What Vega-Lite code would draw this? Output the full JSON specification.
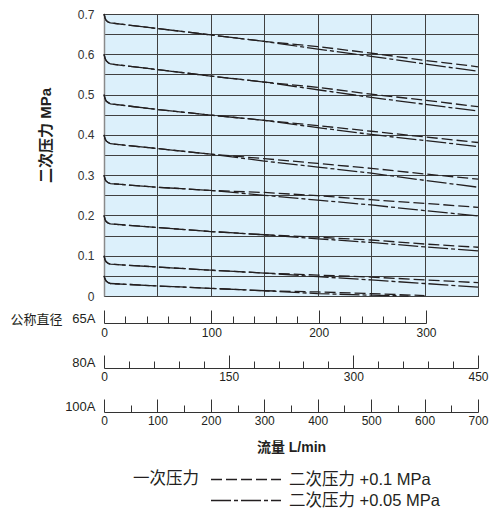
{
"$schema": "https://vega.github.io/schema/vega-lite/v6.json",
"padding": {"left": 10, "top": 8, "right": 0, "bottom": 0},
"background": "white",
"width": 374, "height": 282,
"view": {"fill": "#dcf0fb", "stroke": "#333333", "strokeWidth": 1},
"config": {
  "font": "Liberation Sans, Noto Sans CJK SC",
  "axis": {"labelFont": "Liberation Sans, Noto Sans CJK SC", "titleFont": "Liberation Sans, Noto Sans CJK SC", "labelColor": "#231f20", "titleColor": "#231f20", "labelFontSize": 12},
  "legend": {"labelFont": "Liberation Sans, Noto Sans CJK SC", "titleFont": "Liberation Sans, Noto Sans CJK SC"}
},
"layer": [
  {
    "data": {"values": [
      {"p":0.7,"t":"+0.1","x":0,"y":0.700},{"p":0.7,"t":"+0.1","x":2,"y":0.690},{"p":0.7,"t":"+0.1","x":4,"y":0.684},{"p":0.7,"t":"+0.1","x":8,"y":0.680},{"p":0.7,"t":"+0.1","x":12,"y":0.678},{"p":0.7,"t":"+0.1","x":100,"y":0.664},{"p":0.7,"t":"+0.1","x":200,"y":0.648},{"p":0.7,"t":"+0.1","x":300,"y":0.632},{"p":0.7,"t":"+0.1","x":400,"y":0.619},{"p":0.7,"t":"+0.1","x":500,"y":0.603},{"p":0.7,"t":"+0.1","x":600,"y":0.585},{"p":0.7,"t":"+0.1","x":700,"y":0.569},
      {"p":0.7,"t":"+0.05","x":0,"y":0.700},{"p":0.7,"t":"+0.05","x":2,"y":0.690},{"p":0.7,"t":"+0.05","x":4,"y":0.684},{"p":0.7,"t":"+0.05","x":8,"y":0.680},{"p":0.7,"t":"+0.05","x":12,"y":0.678},{"p":0.7,"t":"+0.05","x":100,"y":0.664},{"p":0.7,"t":"+0.05","x":200,"y":0.648},{"p":0.7,"t":"+0.05","x":300,"y":0.632},{"p":0.7,"t":"+0.05","x":400,"y":0.613},{"p":0.7,"t":"+0.05","x":500,"y":0.595},{"p":0.7,"t":"+0.05","x":600,"y":0.576},{"p":0.7,"t":"+0.05","x":700,"y":0.558},
      {"p":0.6,"t":"+0.1","x":0,"y":0.600},{"p":0.6,"t":"+0.1","x":2,"y":0.590},{"p":0.6,"t":"+0.1","x":4,"y":0.584},{"p":0.6,"t":"+0.1","x":8,"y":0.579},{"p":0.6,"t":"+0.1","x":12,"y":0.576},{"p":0.6,"t":"+0.1","x":100,"y":0.562},{"p":0.6,"t":"+0.1","x":200,"y":0.546},{"p":0.6,"t":"+0.1","x":300,"y":0.531},{"p":0.6,"t":"+0.1","x":400,"y":0.518},{"p":0.6,"t":"+0.1","x":500,"y":0.501},{"p":0.6,"t":"+0.1","x":600,"y":0.486},{"p":0.6,"t":"+0.1","x":700,"y":0.470},
      {"p":0.6,"t":"+0.05","x":0,"y":0.600},{"p":0.6,"t":"+0.05","x":2,"y":0.590},{"p":0.6,"t":"+0.05","x":4,"y":0.584},{"p":0.6,"t":"+0.05","x":8,"y":0.579},{"p":0.6,"t":"+0.05","x":12,"y":0.576},{"p":0.6,"t":"+0.05","x":100,"y":0.562},{"p":0.6,"t":"+0.05","x":200,"y":0.546},{"p":0.6,"t":"+0.05","x":300,"y":0.531},{"p":0.6,"t":"+0.05","x":400,"y":0.512},{"p":0.6,"t":"+0.05","x":500,"y":0.493},{"p":0.6,"t":"+0.05","x":600,"y":0.476},{"p":0.6,"t":"+0.05","x":700,"y":0.459},
      {"p":0.5,"t":"+0.1","x":0,"y":0.500},{"p":0.5,"t":"+0.1","x":2,"y":0.490},{"p":0.5,"t":"+0.1","x":4,"y":0.484},{"p":0.5,"t":"+0.1","x":8,"y":0.480},{"p":0.5,"t":"+0.1","x":12,"y":0.477},{"p":0.5,"t":"+0.1","x":100,"y":0.463},{"p":0.5,"t":"+0.1","x":200,"y":0.449},{"p":0.5,"t":"+0.1","x":300,"y":0.436},{"p":0.5,"t":"+0.1","x":400,"y":0.423},{"p":0.5,"t":"+0.1","x":500,"y":0.409},{"p":0.5,"t":"+0.1","x":600,"y":0.395},{"p":0.5,"t":"+0.1","x":700,"y":0.381},
      {"p":0.5,"t":"+0.05","x":0,"y":0.500},{"p":0.5,"t":"+0.05","x":2,"y":0.490},{"p":0.5,"t":"+0.05","x":4,"y":0.484},{"p":0.5,"t":"+0.05","x":8,"y":0.480},{"p":0.5,"t":"+0.05","x":12,"y":0.477},{"p":0.5,"t":"+0.05","x":100,"y":0.463},{"p":0.5,"t":"+0.05","x":200,"y":0.449},{"p":0.5,"t":"+0.05","x":300,"y":0.436},{"p":0.5,"t":"+0.05","x":400,"y":0.418},{"p":0.5,"t":"+0.05","x":500,"y":0.401},{"p":0.5,"t":"+0.05","x":600,"y":0.386},{"p":0.5,"t":"+0.05","x":700,"y":0.371},
      {"p":0.4,"t":"+0.1","x":0,"y":0.400},{"p":0.4,"t":"+0.1","x":2,"y":0.390},{"p":0.4,"t":"+0.1","x":4,"y":0.385},{"p":0.4,"t":"+0.1","x":8,"y":0.381},{"p":0.4,"t":"+0.1","x":12,"y":0.378},{"p":0.4,"t":"+0.1","x":100,"y":0.366},{"p":0.4,"t":"+0.1","x":200,"y":0.352},{"p":0.4,"t":"+0.1","x":300,"y":0.341},{"p":0.4,"t":"+0.1","x":400,"y":0.329},{"p":0.4,"t":"+0.1","x":500,"y":0.317},{"p":0.4,"t":"+0.1","x":600,"y":0.303},{"p":0.4,"t":"+0.1","x":700,"y":0.290},
      {"p":0.4,"t":"+0.05","x":0,"y":0.400},{"p":0.4,"t":"+0.05","x":2,"y":0.390},{"p":0.4,"t":"+0.05","x":4,"y":0.385},{"p":0.4,"t":"+0.05","x":8,"y":0.381},{"p":0.4,"t":"+0.05","x":12,"y":0.378},{"p":0.4,"t":"+0.05","x":100,"y":0.366},{"p":0.4,"t":"+0.05","x":200,"y":0.352},{"p":0.4,"t":"+0.05","x":300,"y":0.335},{"p":0.4,"t":"+0.05","x":400,"y":0.320},{"p":0.4,"t":"+0.05","x":500,"y":0.305},{"p":0.4,"t":"+0.05","x":600,"y":0.287},{"p":0.4,"t":"+0.05","x":700,"y":0.270},
      {"p":0.3,"t":"+0.1","x":0,"y":0.300},{"p":0.3,"t":"+0.1","x":2,"y":0.290},{"p":0.3,"t":"+0.1","x":4,"y":0.285},{"p":0.3,"t":"+0.1","x":8,"y":0.281},{"p":0.3,"t":"+0.1","x":12,"y":0.279},{"p":0.3,"t":"+0.1","x":100,"y":0.270},{"p":0.3,"t":"+0.1","x":200,"y":0.262},{"p":0.3,"t":"+0.1","x":300,"y":0.257},{"p":0.3,"t":"+0.1","x":400,"y":0.249},{"p":0.3,"t":"+0.1","x":500,"y":0.239},{"p":0.3,"t":"+0.1","x":600,"y":0.230},{"p":0.3,"t":"+0.1","x":700,"y":0.220},
      {"p":0.3,"t":"+0.05","x":0,"y":0.300},{"p":0.3,"t":"+0.05","x":2,"y":0.290},{"p":0.3,"t":"+0.05","x":4,"y":0.285},{"p":0.3,"t":"+0.05","x":8,"y":0.281},{"p":0.3,"t":"+0.05","x":12,"y":0.279},{"p":0.3,"t":"+0.05","x":100,"y":0.270},{"p":0.3,"t":"+0.05","x":200,"y":0.262},{"p":0.3,"t":"+0.05","x":300,"y":0.250},{"p":0.3,"t":"+0.05","x":400,"y":0.238},{"p":0.3,"t":"+0.05","x":500,"y":0.226},{"p":0.3,"t":"+0.05","x":600,"y":0.212},{"p":0.3,"t":"+0.05","x":700,"y":0.199},
      {"p":0.2,"t":"+0.1","x":0,"y":0.200},{"p":0.2,"t":"+0.1","x":2,"y":0.190},{"p":0.2,"t":"+0.1","x":4,"y":0.185},{"p":0.2,"t":"+0.1","x":8,"y":0.181},{"p":0.2,"t":"+0.1","x":12,"y":0.179},{"p":0.2,"t":"+0.1","x":100,"y":0.170},{"p":0.2,"t":"+0.1","x":200,"y":0.160},{"p":0.2,"t":"+0.1","x":300,"y":0.152},{"p":0.2,"t":"+0.1","x":400,"y":0.146},{"p":0.2,"t":"+0.1","x":500,"y":0.139},{"p":0.2,"t":"+0.1","x":600,"y":0.129},{"p":0.2,"t":"+0.1","x":700,"y":0.121},
      {"p":0.2,"t":"+0.05","x":0,"y":0.200},{"p":0.2,"t":"+0.05","x":2,"y":0.190},{"p":0.2,"t":"+0.05","x":4,"y":0.185},{"p":0.2,"t":"+0.05","x":8,"y":0.181},{"p":0.2,"t":"+0.05","x":12,"y":0.179},{"p":0.2,"t":"+0.05","x":100,"y":0.170},{"p":0.2,"t":"+0.05","x":200,"y":0.160},{"p":0.2,"t":"+0.05","x":300,"y":0.152},{"p":0.2,"t":"+0.05","x":400,"y":0.142},{"p":0.2,"t":"+0.05","x":500,"y":0.133},{"p":0.2,"t":"+0.05","x":600,"y":0.122},{"p":0.2,"t":"+0.05","x":700,"y":0.112},
      {"p":0.1,"t":"+0.1","x":0,"y":0.100},{"p":0.1,"t":"+0.1","x":2,"y":0.090},{"p":0.1,"t":"+0.1","x":4,"y":0.085},{"p":0.1,"t":"+0.1","x":8,"y":0.081},{"p":0.1,"t":"+0.1","x":12,"y":0.079},{"p":0.1,"t":"+0.1","x":100,"y":0.072},{"p":0.1,"t":"+0.1","x":200,"y":0.064},{"p":0.1,"t":"+0.1","x":300,"y":0.057},{"p":0.1,"t":"+0.1","x":400,"y":0.052},{"p":0.1,"t":"+0.1","x":500,"y":0.047},{"p":0.1,"t":"+0.1","x":600,"y":0.040},{"p":0.1,"t":"+0.1","x":700,"y":0.033},
      {"p":0.1,"t":"+0.05","x":0,"y":0.100},{"p":0.1,"t":"+0.05","x":2,"y":0.090},{"p":0.1,"t":"+0.05","x":4,"y":0.085},{"p":0.1,"t":"+0.05","x":8,"y":0.081},{"p":0.1,"t":"+0.05","x":12,"y":0.079},{"p":0.1,"t":"+0.05","x":100,"y":0.072},{"p":0.1,"t":"+0.05","x":200,"y":0.064},{"p":0.1,"t":"+0.05","x":300,"y":0.057},{"p":0.1,"t":"+0.05","x":400,"y":0.048},{"p":0.1,"t":"+0.05","x":500,"y":0.040},{"p":0.1,"t":"+0.05","x":600,"y":0.031},{"p":0.1,"t":"+0.05","x":700,"y":0.022},
      {"p":0.05,"t":"+0.1","x":0,"y":0.050},{"p":0.05,"t":"+0.1","x":2,"y":0.042},{"p":0.05,"t":"+0.1","x":4,"y":0.037},{"p":0.05,"t":"+0.1","x":8,"y":0.033},{"p":0.05,"t":"+0.1","x":12,"y":0.031},{"p":0.05,"t":"+0.1","x":100,"y":0.025},{"p":0.05,"t":"+0.1","x":200,"y":0.019},{"p":0.05,"t":"+0.1","x":300,"y":0.013},{"p":0.05,"t":"+0.1","x":400,"y":0.010},{"p":0.05,"t":"+0.1","x":500,"y":0.006},{"p":0.05,"t":"+0.1","x":600,"y":0.001},
      {"p":0.05,"t":"+0.05","x":0,"y":0.050},{"p":0.05,"t":"+0.05","x":2,"y":0.042},{"p":0.05,"t":"+0.05","x":4,"y":0.037},{"p":0.05,"t":"+0.05","x":8,"y":0.033},{"p":0.05,"t":"+0.05","x":12,"y":0.031},{"p":0.05,"t":"+0.05","x":100,"y":0.025},{"p":0.05,"t":"+0.05","x":200,"y":0.019},{"p":0.05,"t":"+0.05","x":300,"y":0.013},{"p":0.05,"t":"+0.05","x":400,"y":0.006},{"p":0.05,"t":"+0.05","x":500,"y":0.002},{"p":0.05,"t":"+0.05","x":570,"y":0.000}
    ]},
    "mark": {"type": "line", "color": "#231f20", "strokeWidth": 1.3},
    "encoding": {
      "x": {"field": "x", "type": "quantitative", "scale": {"domain": [0, 700], "nice": false},
        "axis": {"orient": "bottom", "values": [0,100,200,300,400,500,600,700], "labels": false, "ticks": false, "domain": false, "grid": true, "gridColor": "#404040", "gridOpacity": 1, "gridWidth": 1, "title": null}},
      "y": {"field": "y", "type": "quantitative", "scale": {"domain": [0, 0.7], "nice": false},
        "axis": {"values": [0,0.05,0.1,0.15,0.2,0.25,0.3,0.35,0.4,0.45,0.5,0.55,0.6,0.65,0.7],
          "labelExpr": "round(datum.value*20)%2==0 ? (datum.value==0 ? '0' : format(datum.value,'.1f')) : ''",
          "labelOverlap": false, "labelPadding": 10, "labelFontSize": 12, "labelColor": "#333333",
          "ticks": false, "domain": true, "domainColor": "#8a8a8a", "domainWidth": 1.5,
          "grid": true, "gridColor": "#404040", "gridOpacity": 1, "gridWidth": 1,
          "title": "二次压力  MPa", "titleFontSize": 15, "titleFontWeight": "bold", "titleAngle": 270,
          "titleX": -51, "titleY": 121, "titleAlign": "center", "titleBaseline": "bottom"}},
      "detail": {"field": "p", "type": "nominal"},
      "strokeDash": {"field": "t", "type": "nominal",
        "scale": {"domain": ["+0.1", "+0.05"], "range": [[11, 4], [20, 3, 4, 3]]},
        "legend": {"orient": "none", "legendX": 29, "legendY": 457, "padding": 0,
          "title": "一次压力", "titleOrient": "left", "titleAnchor": "start", "titleFontSize": 16.5, "titleFontWeight": "normal", "titleColor": "#231f20", "titlePadding": 11, "titleBaseline": "top",
          "labelExpr": "'二次压力 ' + datum.label + ' MPa'", "labelFontSize": 16.5, "labelColor": "#231f20", "labelOffset": 7, "labelLimit": 300,
          "symbolType": "stroke", "symbolSize": 4900, "symbolStrokeWidth": 1.3, "symbolStrokeColor": "#231f20",
          "clipHeight": 17, "rowPadding": 4, "direction": "vertical"}}
    }
  },
  {
    "data": {"values": [{"v": 0}]},
    "mark": {"type": "point", "opacity": 0, "size": 0},
    "encoding": {"x": {"field": "v", "type": "quantitative", "scale": {"domain": [0, 300], "range": [0, 322], "nice": false},
      "axis": {"orient": "bottom", "offset": 27, "values": [0,100,200,300], "tickSize": -13, "labelPadding": 17, "labelFlush": false, "labelFontSize": 12,
        "domainColor": "#333333", "tickColor": "#333333", "grid": false,
        "title": "65A", "titleX": -9, "titleY": -5, "titleAlign": "right", "titleBaseline": "middle", "titleAngle": 0, "titleFontWeight": "normal", "titleFontSize": 13}}}
  },
  {
    "data": {"values": [{"v": 0}]},
    "mark": {"type": "point", "opacity": 0, "size": 0},
    "encoding": {"x": {"field": "v", "type": "quantitative", "scale": {"domain": [0, 300], "range": [0, 322], "nice": false},
      "axis": {"orient": "bottom", "offset": 27, "values": [20,40,60,80,120,140,160,180,220,240,260,280], "tickSize": -7, "labels": false, "domain": false, "tickColor": "#333333", "grid": false,
        "title": "公称直径", "titleX": -94, "titleY": -4, "titleAlign": "left", "titleBaseline": "middle", "titleAngle": 0, "titleFontWeight": "normal", "titleFontSize": 13}}}
  },
  {
    "data": {"values": [{"v": 0}]},
    "mark": {"type": "point", "opacity": 0, "size": 0},
    "encoding": {"x": {"field": "v", "type": "quantitative", "scale": {"domain": [0, 450], "nice": false},
      "axis": {"orient": "bottom", "offset": 72, "values": [0,150,300,450], "tickSize": -13, "labelPadding": 16, "labelFlush": false, "labelFontSize": 12,
        "domainColor": "#333333", "tickColor": "#333333", "grid": false,
        "title": "80A", "titleX": -9, "titleY": -6, "titleAlign": "right", "titleBaseline": "middle", "titleAngle": 0, "titleFontWeight": "normal", "titleFontSize": 13}}}
  },
  {
    "data": {"values": [{"v": 0}]},
    "mark": {"type": "point", "opacity": 0, "size": 0},
    "encoding": {"x": {"field": "v", "type": "quantitative", "scale": {"domain": [0, 450], "nice": false},
      "axis": {"orient": "bottom", "offset": 72, "values": [30,60,90,120,180,210,240,270,330,360,390,420], "tickSize": -7, "labels": false, "domain": false, "tickColor": "#333333", "grid": false, "title": null}}}
  },
  {
    "data": {"values": [{"v": 0}]},
    "mark": {"type": "point", "opacity": 0, "size": 0},
    "encoding": {"x": {"field": "v", "type": "quantitative", "scale": {"domain": [0, 700], "nice": false},
      "axis": {"orient": "bottom", "offset": 116, "values": [0,100,200,300,400,500,600,700], "tickSize": -13, "labelPadding": 16, "labelFlush": false, "labelFontSize": 12,
        "domainColor": "#333333", "tickColor": "#333333", "grid": false,
        "title": "100A", "titleX": -9, "titleY": -6, "titleAlign": "right", "titleBaseline": "middle", "titleAngle": 0, "titleFontWeight": "normal", "titleFontSize": 13}}}
  },
  {
    "data": {"values": [{"v": 0}]},
    "mark": {"type": "point", "opacity": 0, "size": 0},
    "encoding": {"x": {"field": "v", "type": "quantitative", "scale": {"domain": [0, 700], "nice": false},
      "axis": {"orient": "bottom", "offset": 116, "values": [50,150,250,350,450,550,650], "tickSize": -7, "labels": false, "domain": false, "tickColor": "#333333", "grid": false,
        "title": "流量 L/min", "titleX": 187, "titleY": 35, "titleAlign": "center", "titleBaseline": "middle", "titleAngle": 0, "titleFontWeight": "bold", "titleFontSize": 14}}}
  }
],
"resolve": {"scale": {"x": "independent"}, "axis": {"x": "independent"}}
}
